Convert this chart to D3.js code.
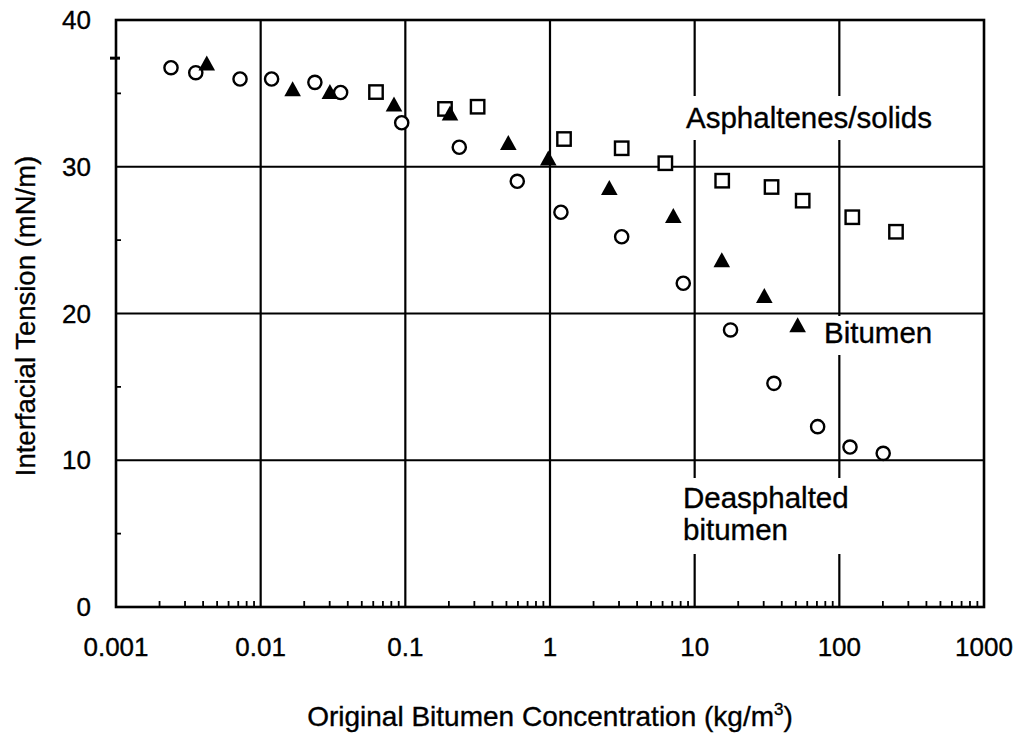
<!DOCTYPE html>
<html>
<head>
<meta charset="utf-8">
<script src="https://cdn.jsdelivr.net/npm/d3@7"></script>
<style>
  html, body { margin: 0; padding: 0; background: #fff; }
  svg { display: block; font-family: "Liberation Sans", Arial, Helvetica, sans-serif; }
  text { stroke: #000; stroke-width: 0.35px; }
</style>
</head>
<body>
<svg id="chart" width="1021" height="733"></svg>
<script>
// ---- data ----
// Deasphalted bitumen (open circles)
const deasphaltedX = [0.0024, 0.00356, 0.0072, 0.0119, 0.0237, 0.0357, 0.0944, 0.236, 0.594, 1.19, 3.13, 8.34, 17.7, 35.3, 70.8, 118.5, 201];
const deasphaltedY = [36.75, 36.41, 35.98, 35.98, 35.75, 35.06, 33.0, 31.33, 29.01, 26.9, 25.23, 22.06, 18.88, 15.24, 12.29, 10.9, 10.47];
// Bitumen (filled triangles)
const bitumenX = [0.00424, 0.01663, 0.0301, 0.0835, 0.2036, 0.515, 0.973, 2.57, 7.12, 15.4, 30.3, 51.5];
const bitumenY = [37.05, 35.30, 35.11, 34.26, 33.64, 31.64, 30.58, 28.57, 26.66, 23.65, 21.21, 19.22];
// Asphaltenes/solids (open squares)
const asphaltenesX = [0.0627, 0.188, 0.316, 1.25, 3.13, 6.27, 15.5, 34.0, 55.8, 122.9, 246.4];
const asphaltenesY = [35.09, 33.94, 34.09, 31.89, 31.26, 30.24, 29.05, 28.62, 27.69, 26.56, 25.57];

const xTickValues = [0.001, 0.01, 0.1, 1, 10, 100, 1000];
const xTickLabels = ["0.001", "0.01", "0.1", "1", "10", "100", "1000"];
const yTickValues = [0, 10, 20, 30, 40];
const yTickLabels = ["0", "10", "20", "30", "40"];
const yMinorTicks = [5, 15, 25, 35];
const yStrayTicks = [37.4];
const xGrid = [0.01, 0.1, 1, 10, 100];
const yGrid = [10, 20, 30];

const xTitle = "Original Bitumen Concentration (kg/m";
const xTitleSup = "3";
const yTitle = "Interfacial Tension (mN/m)";
const labelAsph = "Asphaltenes/solids";
const labelBit = "Bitumen";
const labelDeas = ["Deasphalted", "bitumen"];

// ---- layout ----
const W = 1021, H = 733;
const margin = { left: 116, right: 37, top: 20, bottom: 126 };
const iw = W - margin.left - margin.right;
const ih = H - margin.top - margin.bottom;

const svg = d3.select("#chart");
const g = svg.append("g").attr("transform", `translate(${margin.left},${margin.top})`);

const x = d3.scaleLog().domain([0.001, 1000]).range([0, iw]);
const y = d3.scaleLinear().domain([0, 40]).range([ih, 0]);

// gridlines
g.append("g").selectAll("line").data(xGrid).join("line")
  .attr("x1", d => x(d)).attr("x2", d => x(d))
  .attr("y1", 0).attr("y2", ih)
  .attr("stroke", "#000").attr("stroke-width", 2.2);
g.append("g").selectAll("line").data(yGrid).join("line")
  .attr("x1", 0).attr("x2", iw)
  .attr("y1", d => y(d)).attr("y2", d => y(d))
  .attr("stroke", "#000").attr("stroke-width", 2.2);

// minor x ticks (inward, from bottom)
const minorX = [];
for (let e = -3; e < 3; e++) for (let m = 2; m <= 9; m++) minorX.push(m * Math.pow(10, e));
g.append("g").selectAll("line").data(minorX).join("line")
  .attr("x1", d => x(d)).attr("x2", d => x(d))
  .attr("y1", ih).attr("y2", ih - 6)
  .attr("stroke", "#000").attr("stroke-width", 1.8);

// minor y ticks (inward)
g.append("g").selectAll("line").data(yMinorTicks).join("line")
  .attr("x1", 0).attr("x2", 5)
  .attr("y1", d => y(d)).attr("y2", d => y(d))
  .attr("stroke", "#000").attr("stroke-width", 1.8);
g.append("g").selectAll("line").data(yStrayTicks).join("line")
  .attr("x1", -6).attr("x2", 4)
  .attr("y1", d => y(d)).attr("y2", d => y(d))
  .attr("stroke", "#000").attr("stroke-width", 3);

// annotations with white backgrounds that break the gridlines
const annG = g.append("g");
function addLabel(lines, xv, yBase, lineH, pad) {
  const grp = annG.append("g");
  const rect = grp.append("rect").attr("fill", "#fff");
  const t = grp.append("text")
    .attr("font-size", 29.5).attr("fill", "#000");
  lines.forEach((s, i) => {
    t.append("tspan").attr("x", xv).attr("y", yBase + i * lineH).text(s);
  });
  const bb = t.node().getBBox();
  rect.attr("x", bb.x - pad[3]).attr("y", bb.y - pad[0])
      .attr("width", bb.width + pad[1] + pad[3])
      .attr("height", bb.height + pad[0] + pad[2]);
}
addLabel([labelAsph], 686 - margin.left, 128 - margin.top, 0, [5, 4, 6, 4]);
addLabel([labelBit], 824 - margin.left, 343 - margin.top, 0, [0, 4, 6, 4]);
addLabel(labelDeas, 683 - margin.left, 508 - margin.top, 32, [3, 4, 8, 4]);

// frame
g.append("rect").attr("x", 0).attr("y", 0).attr("width", iw).attr("height", ih)
  .attr("fill", "none").attr("stroke", "#000").attr("stroke-width", 2.6);

// tick labels
g.append("g").selectAll("text").data(xTickValues).join("text")
  .attr("x", d => x(d)).attr("y", ih + 49)
  .attr("text-anchor", "middle").attr("font-size", 26)
  .text((d, i) => xTickLabels[i]);
g.append("g").selectAll("text").data(yTickValues).join("text")
  .attr("x", -25).attr("y", d => y(d)).attr("dy", "0.35em")
  .attr("text-anchor", "end").attr("font-size", 26)
  .text((d, i) => yTickLabels[i]);

// axis titles
const xt = svg.append("text")
  .attr("x", 550).attr("y", 726)
  .attr("text-anchor", "middle").attr("font-size", 28);
xt.append("tspan").text(xTitle);
xt.append("tspan").attr("font-size", 17).attr("dy", -11).text(xTitleSup);
xt.append("tspan").attr("dy", 11).text(")");

svg.append("text")
  .attr("transform", "translate(35,316) rotate(-90)")
  .attr("text-anchor", "middle").attr("font-size", 27.5)
  .text(yTitle);

// markers
const circles = deasphaltedX.map((v, i) => ({ x: v, y: deasphaltedY[i] }));
const tris = bitumenX.map((v, i) => ({ x: v, y: bitumenY[i] }));
const squares = asphaltenesX.map((v, i) => ({ x: v, y: asphaltenesY[i] }));

g.append("g").selectAll("rect").data(squares).join("rect")
  .attr("x", d => x(d.x) - 6.7).attr("y", d => y(d.y) - 6.7)
  .attr("width", 13.4).attr("height", 13.4)
  .attr("fill", "#fff").attr("stroke", "#000").attr("stroke-width", 2.4);

g.append("g").selectAll("circle").data(circles).join("circle")
  .attr("cx", d => x(d.x)).attr("cy", d => y(d.y)).attr("r", 6.6)
  .attr("fill", "#fff").attr("stroke", "#000").attr("stroke-width", 2.4);

g.append("g").selectAll("path").data(tris).join("path")
  .attr("d", d => {
    const cx = x(d.x), cy = y(d.y);
    return `M${cx},${cy - 7.8}L${cx + 8.3},${cy + 7.2}L${cx - 8.3},${cy + 7.2}Z`;
  })
  .attr("fill", "#000");
</script>
</body>
</html>
